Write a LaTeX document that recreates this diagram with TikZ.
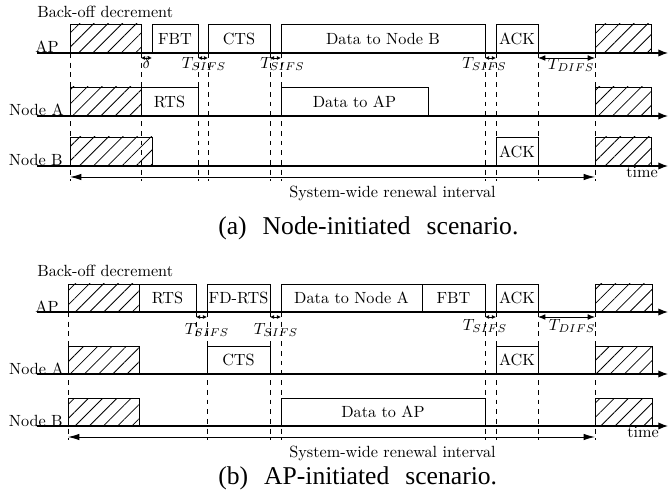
\documentclass[tikz,border=0pt]{standalone}
\usepackage{amsmath}
\usepackage{fontspec}
\usepackage{tikz}
\usetikzlibrary{arrows.meta,patterns.meta}
\newfontfamily\capfont[WordSpace=2.5]{Liberation Serif}

\tikzset{
  pkt/.style={line width=0.6pt},
  hatch/.style={pkt,pattern={Lines[angle=45,distance=6.2pt,line width=0.5pt]}},
  tline/.style={line width=0.7pt,-{Latex[length=6pt,width=4.5pt]}},
  vdash/.style={dashed,line width=0.6pt},
  gap/.style={line width=0.5pt,{Latex[length=2.5pt,width=2.4pt]}-{Latex[length=2.5pt,width=2.4pt]}},
  difs/.style={line width=0.5pt,{Latex[length=4.5pt,width=3.5pt]}-{Latex[length=4.5pt,width=3.5pt]}},
  renew/.style={line width=0.6pt,{Latex[length=7pt,width=4pt]}-{Latex[length=7pt,width=4pt]}},
  lbl/.style={anchor=base east,inner sep=0pt},
  gaplbl/.style={anchor=north,inner sep=0pt},
}

% packet box on a time line: name, x start, x end, base y, text
\newcommand{\pktbox}[5]{%
  \draw[pkt] (#2,#4) -- (#2,#4-\bh) -- (#3,#4-\bh) -- (#3,#4);
  \node[inner sep=0pt] (#1) at ({(#2+#3)/2},{#4-\bh/2}) {#5};}
% back-off box: x start, x end, base y
\newcommand{\hatchbox}[3]{%
  \draw[hatch] (#1,#3) rectangle (#2,#3-\bh);}

\begin{document}
\begin{tikzpicture}[x=0.617pt,y=-0.617pt]
  \useasboundingbox (0,0) rectangle (669,501);

  %%%%%%%% (a) node-initiated %%%%%%%%
  \def\bh{29}
  \def\yAP{53}  \def\yA{116}  \def\yB{166}

  \node[anchor=base west,inner sep=0pt] (bo1) at (37,18) {Back-off decrement};

  % AP
  \hatchbox{70}{141}{\yAP}
  \pktbox{fbt1}{152}{198}{\yAP}{FBT}
  \pktbox{cts1}{208}{270}{\yAP}{CTS}
  \pktbox{dat1}{281}{485}{\yAP}{Data to Node B}
  \pktbox{ack1}{496}{538}{\yAP}{ACK}
  \hatchbox{595}{651}{\yAP}
  % Node A
  \hatchbox{70}{141}{\yA}
  \pktbox{rts1}{141}{198}{\yA}{RTS}
  \pktbox{up1}{281}{428}{\yA}{Data to AP}
  \hatchbox{595}{651}{\yA}
  % Node B
  \hatchbox{70}{152}{\yB}
  \pktbox{ackb1}{496}{538}{\yB}{ACK}
  \hatchbox{595}{651}{\yB}

  % time lines
  \node[lbl] (ap1) at (59,\yAP) {AP};
  \node[lbl] (na1) at (64,\yA) {Node A};
  \node[lbl] (nb1) at (63,\yB) {Node B};
  \draw[tline] (37,\yAP) -- (668,\yAP);
  \draw[tline] (37,\yA) -- (668,\yA);
  \draw[tline] (37,\yB) -- (668,\yB);
  \node[gaplbl] (t1) at (642,167) {time};

  % slot boundaries
  \foreach \x in {70,141,198,208,270,281,485,496,538,595}
    \draw[vdash] (\x,\yAP) -- (\x,181);

  % gaps
  \draw[gap] (141,58) -- (152,58);
  \draw[gap] (198,58) -- (208,58);
  \draw[gap] (270,58) -- (281,58);
  \draw[gap] (485,58) -- (496,58);
  \draw[difs] (538,58) -- (595,58);
  \node[gaplbl] (dl1) at (146.5,57) {$\delta$};
  \node[gaplbl] (sa1) at (204,57) {$T_{SIFS}$};
  \node[gaplbl] (sb1) at (282.5,57) {$T_{SIFS}$};
  \node[gaplbl] (sc1) at (484.5,57) {$T_{SIFS}$};
  \node[gaplbl] (di1) at (571,58) {$T_{DIFS}$};

  % renewal interval
  \draw[renew] (70,177) -- (595,177);
  \node[anchor=west,inner sep=0pt] (rw1) at (289,193) {System-wide renewal interval};
  \node[anchor=west,inner sep=0pt] (cap1) at (218,228)
    {\capfont\fontsize{15.8}{18}\selectfont (a) Node-initiated scenario.};

  %%%%%%%% (b) AP-initiated %%%%%%%%
  \def\bh{28}
  \def\yAP{312}  \def\yA{374}  \def\yB{426}

  \node[anchor=base west,inner sep=0pt] (bo2) at (37,277) {Back-off decrement};

  % AP
  \hatchbox{68}{139}{\yAP}
  \pktbox{rts2}{139}{196}{\yAP}{RTS}
  \pktbox{fdr2}{207}{270}{\yAP}{FD-RTS}
  \pktbox{dat2}{281}{422}{\yAP}{Data to Node A}
  \pktbox{fbt2}{422}{485}{\yAP}{FBT}
  \pktbox{ack2}{496}{538}{\yAP}{ACK}
  \hatchbox{595}{652}{\yAP}
  % Node A
  \hatchbox{68}{139}{\yA}
  \pktbox{cts2}{207}{270}{\yA}{CTS}
  \pktbox{acka2}{496}{538}{\yA}{ACK}
  \hatchbox{595}{652}{\yA}
  % Node B
  \hatchbox{68}{139}{\yB}
  \pktbox{up2}{281}{485}{\yB}{Data to AP}
  \hatchbox{595}{652}{\yB}

  % time lines
  \node[lbl] (ap2) at (59,\yAP) {AP};
  \node[lbl] (na2) at (64,\yA) {Node A};
  \node[lbl] (nb2) at (63,\yB) {Node B};
  \draw[tline] (37,\yAP) -- (668,\yAP);
  \draw[tline] (37,\yA) -- (668,\yA);
  \draw[tline] (37,\yB) -- (668,\yB);
  \node[gaplbl] (t2) at (643,427) {time};

  % slot boundaries
  \foreach \x in {68,207,270,281,485,496,538,595}
    \draw[vdash] (\x,\yAP) -- (\x,440);
  \draw[vdash] (196,\yAP) -- (196,338);

  % gaps
  \draw[gap] (196,317) -- (207,317);
  \draw[gap] (270,317) -- (281,317);
  \draw[gap] (485,317) -- (496,317);
  \draw[difs] (538,317) -- (595,317);
  \node[gaplbl] (sa2) at (207,323) {$T_{SIFS}$};
  \node[gaplbl] (sb2) at (276,323) {$T_{SIFS}$};
  \node[gaplbl] (sc2) at (485,319) {$T_{SIFS}$};
  \node[gaplbl] (di2) at (572,319) {$T_{DIFS}$};

  % renewal interval
  \draw[renew] (68,437) -- (595,437);
  \node[anchor=west,inner sep=0pt] (rw2) at (289,453) {System-wide renewal interval};
  \node[anchor=west,inner sep=0pt] (cap2) at (218,478)
    {\capfont\fontsize{15.8}{18}\selectfont (b) AP-initiated scenario.};
\end{tikzpicture}
\end{document}
